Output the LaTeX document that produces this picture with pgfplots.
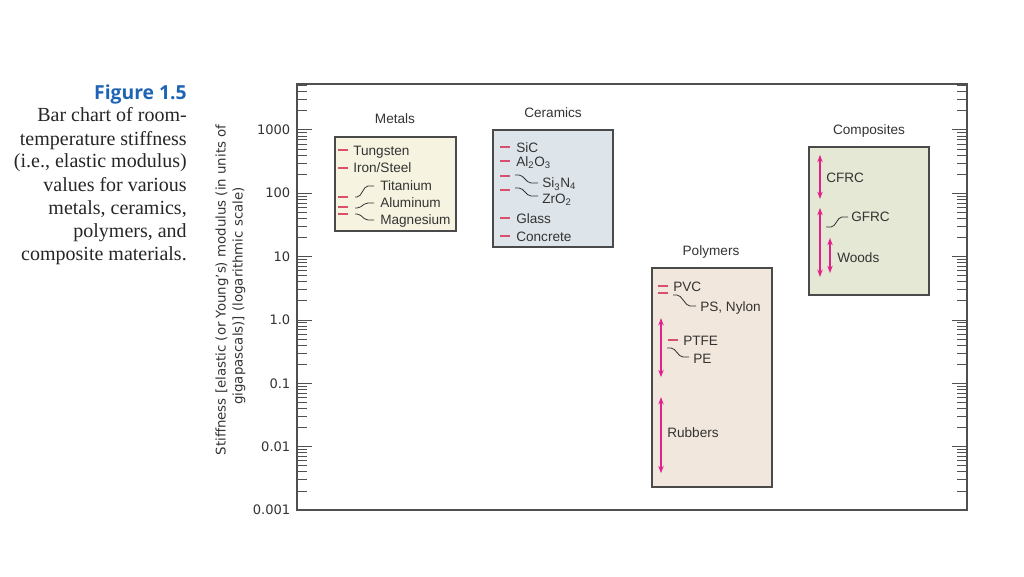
\documentclass[border=0pt]{standalone}
\usepackage{fontspec}
\usepackage{pgfplots}
\pgfplotsset{compat=1.18}
\usetikzlibrary{arrows.meta}
\setmainfont{Liberation Serif}
\newfontfamily\lab{Liberation Sans}
\newfontfamily\dv{DejaVu Sans}
\newfontfamily\figf{Open Sans}

\definecolor{axgray}{HTML}{505050}
\definecolor{txtgray}{HTML}{333333}
\definecolor{boxgray}{HTML}{4A4A4A}
\definecolor{metfill}{HTML}{F6F4E1}
\definecolor{cerfill}{HTML}{DEE5EA}
\definecolor{polfill}{HTML}{F1E7DC}
\definecolor{comfill}{HTML}{E4E8D4}
\definecolor{dashred}{HTML}{D8506E}
\definecolor{arrowmag}{HTML}{E3218A}
\definecolor{figblue}{HTML}{1D64B4}

\newcommand\bx{\lab\fontsize{10.2}{12}\selectfont}
\newcommand\capf{\fontsize{15}{17}\selectfont}

\begin{document}
\begin{tikzpicture}
\path[use as bounding box] (0,0) rectangle (768pt,432pt);

\begin{axis}[
    at={(222.75pt,49.5pt)}, anchor=south west,
    scale only axis, width=502.5pt, height=319.5pt,
    xmin=0, xmax=670,
    ymode=log, ymin=0.001, ymax=5300,
    xtick=\empty,
    ytick={0.001,0.01,0.1,1,10,100,1000},
    yticklabels={0.001,0.01,0.1,1.0,10,100,1000},
    minor ytick={0.002,0.003,0.004,0.005,0.006,0.007,0.008,0.009,
                 0.02,0.03,0.04,0.05,0.06,0.07,0.08,0.09,
                 0.2,0.3,0.4,0.5,0.6,0.7,0.8,0.9,
                 2,3,4,5,6,7,8,9,
                 20,30,40,50,60,70,80,90,
                 200,300,400,500,600,700,800,900,
                 2000,3000,4000,5000},
    axis line style={draw=axgray, line width=1pt},
    major tick length=11pt, minor tick length=7.5pt,
    every tick/.style={draw=axgray, line width=0.6pt},
    yticklabel style={font=\dv\fontsize{9.8}{12}\selectfont, text=txtgray, xshift=-1.5pt},
    clip=false,
]
% boxes (x in axis units, y = modulus range in GPa)
\addplot[draw=boxgray, line width=1pt, fill=metfill]
    coordinates {(38,25.4) (159,25.4) (159,775) (38,775)} -- cycle;
\addplot[draw=boxgray, line width=1pt, fill=cerfill]
    coordinates {(196,14.2) (316,14.2) (316,1000) (196,1000)} -- cycle;
\addplot[draw=boxgray, line width=1pt, fill=polfill]
    coordinates {(355,0.0023) (475,0.0023) (475,6.6) (355,6.6)} -- cycle;
\addplot[draw=boxgray, line width=1pt, fill=comfill]
    coordinates {(512,2.47) (632,2.47) (632,539) (512,539)} -- cycle;

% single values
\addplot[only marks, mark=-, mark size=3.75pt, mark options={draw=dashred, line width=1.3pt}]
    coordinates {(46,483) (46,251) (46,87.5) (46,60.8) (46,47.1)};
\addplot[only marks, mark=-, mark size=3.4pt, mark options={draw=dashred, line width=1.3pt}]
    coordinates {(208,530) (208,320) (208,188) (208,113) (208,40.3) (208,21.1)};
\addplot[only marks, mark=-, mark size=3.75pt, mark options={draw=dashred, line width=1.3pt}]
    coordinates {(366,3.43) (366,2.66) (375.5,0.48)};

% ranges
\tikzset{rng/.style={draw=arrowmag, line width=1pt,
    {Stealth[length=5.5pt,width=4pt]}-{Stealth[length=5.5pt,width=4pt]}}}
\addplot[rng] coordinates {(364,1.07) (364,0.125)};
\addplot[rng] coordinates {(364,0.0605) (364,0.00381)};
\addplot[rng] coordinates {(523,403) (523,81)};
\addplot[rng] coordinates {(523,58.6) (523,4.77)};
\addplot[rng] coordinates {(533,19.7) (533,5.5)};
\end{axis}

\begin{scope}[x=0.75pt, y=-0.75pt, yshift=432pt]
% caption
\node[anchor=base east, inner sep=0, font=\figf\bfseries\fontsize{14.5}{16}\selectfont, text=figblue] at (187,100) {Figure 1.5};
\foreach \t [count=\i from 0] in {Bar chart of room-, temperature stiffness, {(i.e., elastic modulus)}, values for various, {metals, ceramics,}, {polymers, and}, composite materials.}
  \node[anchor=base east, inner sep=0, font=\capf, text=black!85] at (187,{122+23*\i}) {\t};

% y axis title
\node[rotate=90, font=\dv\fontsize{10}{12}\selectfont, text=txtgray] at (222,290) {Stiffness [elastic (or Young’s) modulus (in units of};
\node[rotate=90, font=\dv\fontsize{10}{12}\selectfont, text=txtgray] at (239,296) {gigapascals)] (logarithmic scale)};

\tikzset{t/.style={anchor=base west, inner sep=0, font=\bx, text=txtgray},
         h/.style={anchor=base, inner sep=0, font=\bx, text=txtgray},
         conn/.style={draw=txtgray, line width=0.6pt, rounded corners=1.5pt}}
% metals
\node[h] at (395,124) {Metals};
\node[t] at (353,155) {Tungsten};
\node[t] at (353,173) {Iron/Steel};
\node[t] at (380,190) {Titanium};
\node[t] at (380,207) {Aluminum};
\node[t] at (380,224) {Magnesium};
\draw[conn] (355,197) -- (359,197) -- (366,186) -- (374,186);
\draw[conn] (355,208) -- (359,208) -- (366,203) -- (374,203);
\draw[conn] (355,214) -- (359,214) -- (366,220) -- (374,220);
% ceramics
\node[h] at (553,118) {Ceramics};
\node[t] at (516,152) {SiC};
\node[t] at (516,166) {Al\textsubscript{2}O\textsubscript{3}};
\node[t] at (542,188) {Si\textsubscript{3}N\textsubscript{4}};
\node[t] at (542,203) {ZrO\textsubscript{2}};
\node[t] at (516,223) {Glass};
\node[t] at (516,241) {Concrete};
\draw[conn] (515,175) -- (521,175) -- (529,183) -- (538,183);
\draw[conn] (515,188) -- (521,188) -- (529,196) -- (538,196);
% polymers
\node[h] at (711,255) {Polymers};
\node[t] at (673,291) {PVC};
\node[t] at (700,311) {PS, Nylon};
\node[t] at (683,345) {PTFE};
\node[t] at (693,363) {PE};
\node[t] at (667,437) {Rubbers};
\draw[conn] (673,295) -- (679,295) -- (688,306) -- (696,306);
\draw[conn] (667,348) -- (673,348) -- (681,357) -- (689,357);
% composites
\node[h] at (869,135) {Composites};
\node[t] at (826,183) {CFRC};
\node[t] at (851,221) {GFRC};
\node[t] at (837,262) {Woods};
\draw[conn] (826,227) -- (833,227) -- (840,217) -- (848,217);
\end{scope}
\end{tikzpicture}
\end{document}
